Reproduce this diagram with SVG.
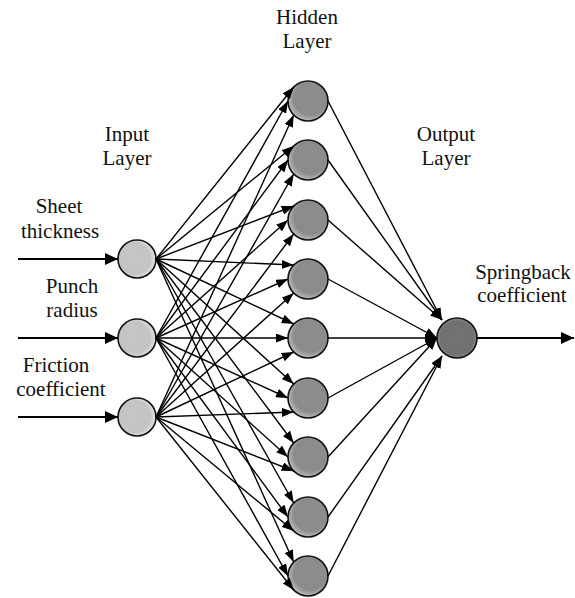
<svg xmlns="http://www.w3.org/2000/svg" width="575" height="598" viewBox="0 0 575 598">
<style>
  text { font-family: "Liberation Serif", "Times New Roman", serif; font-size: 21px; fill: #111; text-anchor: middle; }
  .node { stroke: #111; stroke-width: 1.6; }
  .in { fill: url(#gIn); }
  .hid { fill: url(#gHid); }
  .out { fill: url(#gOut); }
  .c { stroke: #000; stroke-width: 1.4; fill: none; marker-end: url(#ah); }
  .big { stroke: #000; stroke-width: 2; fill: none; marker-end: url(#ahBig); }
</style>
<defs>
  <radialGradient id="gIn" cx="45%" cy="50%" r="55%" fx="40%" fy="45%">
    <stop offset="0" stop-color="#c6c6c6"/>
    <stop offset="0.75" stop-color="#c4c4c4"/>
    <stop offset="1" stop-color="#e6e6e6"/>
  </radialGradient>
  <radialGradient id="gHid" cx="55%" cy="45%" r="55%" fx="60%" fy="40%">
    <stop offset="0" stop-color="#8e8e8e"/>
    <stop offset="0.75" stop-color="#8b8b8b"/>
    <stop offset="1" stop-color="#b8b8b8"/>
  </radialGradient>
  <radialGradient id="gOut" cx="50%" cy="50%" r="55%">
    <stop offset="0" stop-color="#747474"/>
    <stop offset="0.75" stop-color="#707070"/>
    <stop offset="1" stop-color="#959595"/>
  </radialGradient>
  <marker id="ah" markerUnits="userSpaceOnUse" markerWidth="12" markerHeight="9" refX="12" refY="4.5" orient="auto">
    <path d="M0,0 L12,4.5 L0,9 z" fill="#000"/>
  </marker>
  <marker id="ahBig" markerUnits="userSpaceOnUse" markerWidth="13" markerHeight="12" refX="13" refY="6" orient="auto">
    <path d="M0,0 L13,6 L0,12 z" fill="#000"/>
  </marker>
</defs>
<rect width="575" height="598" fill="#fff"/>

<g id="labels">
  <text x="307" y="24">Hidden</text>
  <text x="307" y="48">Layer</text>
  <text x="127" y="141">Input</text>
  <text x="127" y="165">Layer</text>
  <text x="446" y="141">Output</text>
  <text x="446" y="165">Layer</text>
  <text x="59" y="213">Sheet</text>
  <text x="60" y="238">thickness</text>
  <text x="72" y="293">Punch</text>
  <text x="72" y="317">radius</text>
  <text x="56" y="372">Friction</text>
  <text x="61" y="396">coefficient</text>
  <text x="523" y="279">Springback</text>
  <text x="522" y="302">coefficient</text>
</g>

<g id="input-nodes">
  <g id="in1"><circle class="node in" cx="137" cy="259" r="19"/></g>
  <g id="in2"><circle class="node in" cx="137" cy="338" r="19"/></g>
  <g id="in3"><circle class="node in" cx="137" cy="417" r="19"/></g>
</g>
<g id="hidden-nodes">
  <g id="h1"><circle class="node hid" cx="308" cy="101" r="20"/></g>
  <g id="h2"><circle class="node hid" cx="308" cy="160" r="20"/></g>
  <g id="h3"><circle class="node hid" cx="308" cy="220" r="20"/></g>
  <g id="h4"><circle class="node hid" cx="308" cy="279" r="20"/></g>
  <g id="h5"><circle class="node hid" cx="308" cy="338" r="20"/></g>
  <g id="h6"><circle class="node hid" cx="308" cy="398" r="20"/></g>
  <g id="h7"><circle class="node hid" cx="308" cy="457" r="20"/></g>
  <g id="h8"><circle class="node hid" cx="308" cy="517" r="20"/></g>
  <g id="h9"><circle class="node hid" cx="308" cy="576" r="20"/></g>
</g>
<g id="output-node">
  <g id="o1"><circle class="node out" cx="457" cy="338" r="20"/></g>
</g>

<g id="connectors">
  <line class="big" x1="18" y1="259" x2="118" y2="259"/>
  <line class="big" x1="18" y1="338" x2="118" y2="338"/>
  <line class="big" x1="18" y1="417" x2="118" y2="417"/>
  <line class="big" x1="477" y1="338" x2="574" y2="338"/>

  <line class="c" x1="156" y1="259" x2="293.7" y2="87"/>
  <line class="c" x1="156" y1="259" x2="293.7" y2="146"/>
  <line class="c" x1="156" y1="259" x2="293.7" y2="206"/>
  <line class="c" x1="156" y1="259" x2="293.7" y2="265"/>
  <line class="c" x1="156" y1="259" x2="293.7" y2="324"/>
  <line class="c" x1="156" y1="259" x2="293.7" y2="384"/>
  <line class="c" x1="156" y1="259" x2="293.7" y2="443"/>
  <line class="c" x1="156" y1="259" x2="293.7" y2="503"/>
  <line class="c" x1="156" y1="259" x2="293.7" y2="562"/>

  <line class="c" x1="156" y1="338" x2="288" y2="101"/>
  <line class="c" x1="156" y1="338" x2="288" y2="160"/>
  <line class="c" x1="156" y1="338" x2="288" y2="220"/>
  <line class="c" x1="156" y1="338" x2="288" y2="279"/>
  <line class="c" x1="156" y1="338" x2="288" y2="338"/>
  <line class="c" x1="156" y1="338" x2="288" y2="398"/>
  <line class="c" x1="156" y1="338" x2="288" y2="457"/>
  <line class="c" x1="156" y1="338" x2="288" y2="517"/>
  <line class="c" x1="156" y1="338" x2="288" y2="576"/>

  <line class="c" x1="156" y1="417" x2="293.7" y2="115"/>
  <line class="c" x1="156" y1="417" x2="293.7" y2="174"/>
  <line class="c" x1="156" y1="417" x2="293.7" y2="234"/>
  <line class="c" x1="156" y1="417" x2="293.7" y2="293"/>
  <line class="c" x1="156" y1="417" x2="293.7" y2="352"/>
  <line class="c" x1="156" y1="417" x2="293.7" y2="412"/>
  <line class="c" x1="156" y1="417" x2="293.7" y2="471"/>
  <line class="c" x1="156" y1="417" x2="293.7" y2="531"/>
  <line class="c" x1="156" y1="417" x2="293.7" y2="590"/>

  <line class="c" x1="328" y1="101" x2="442" y2="320"/>
  <line class="c" x1="328" y1="160" x2="442" y2="320"/>
  <line class="c" x1="328" y1="220" x2="442" y2="320"/>
  <line class="c" x1="328" y1="279" x2="437" y2="338"/>
  <line class="c" x1="328" y1="338" x2="437" y2="338"/>
  <line class="c" x1="328" y1="398" x2="437" y2="338"/>
  <line class="c" x1="328" y1="457" x2="437" y2="338"/>
  <line class="c" x1="328" y1="517" x2="442" y2="356"/>
  <line class="c" x1="328" y1="576" x2="442" y2="356"/>
</g>
</svg>
